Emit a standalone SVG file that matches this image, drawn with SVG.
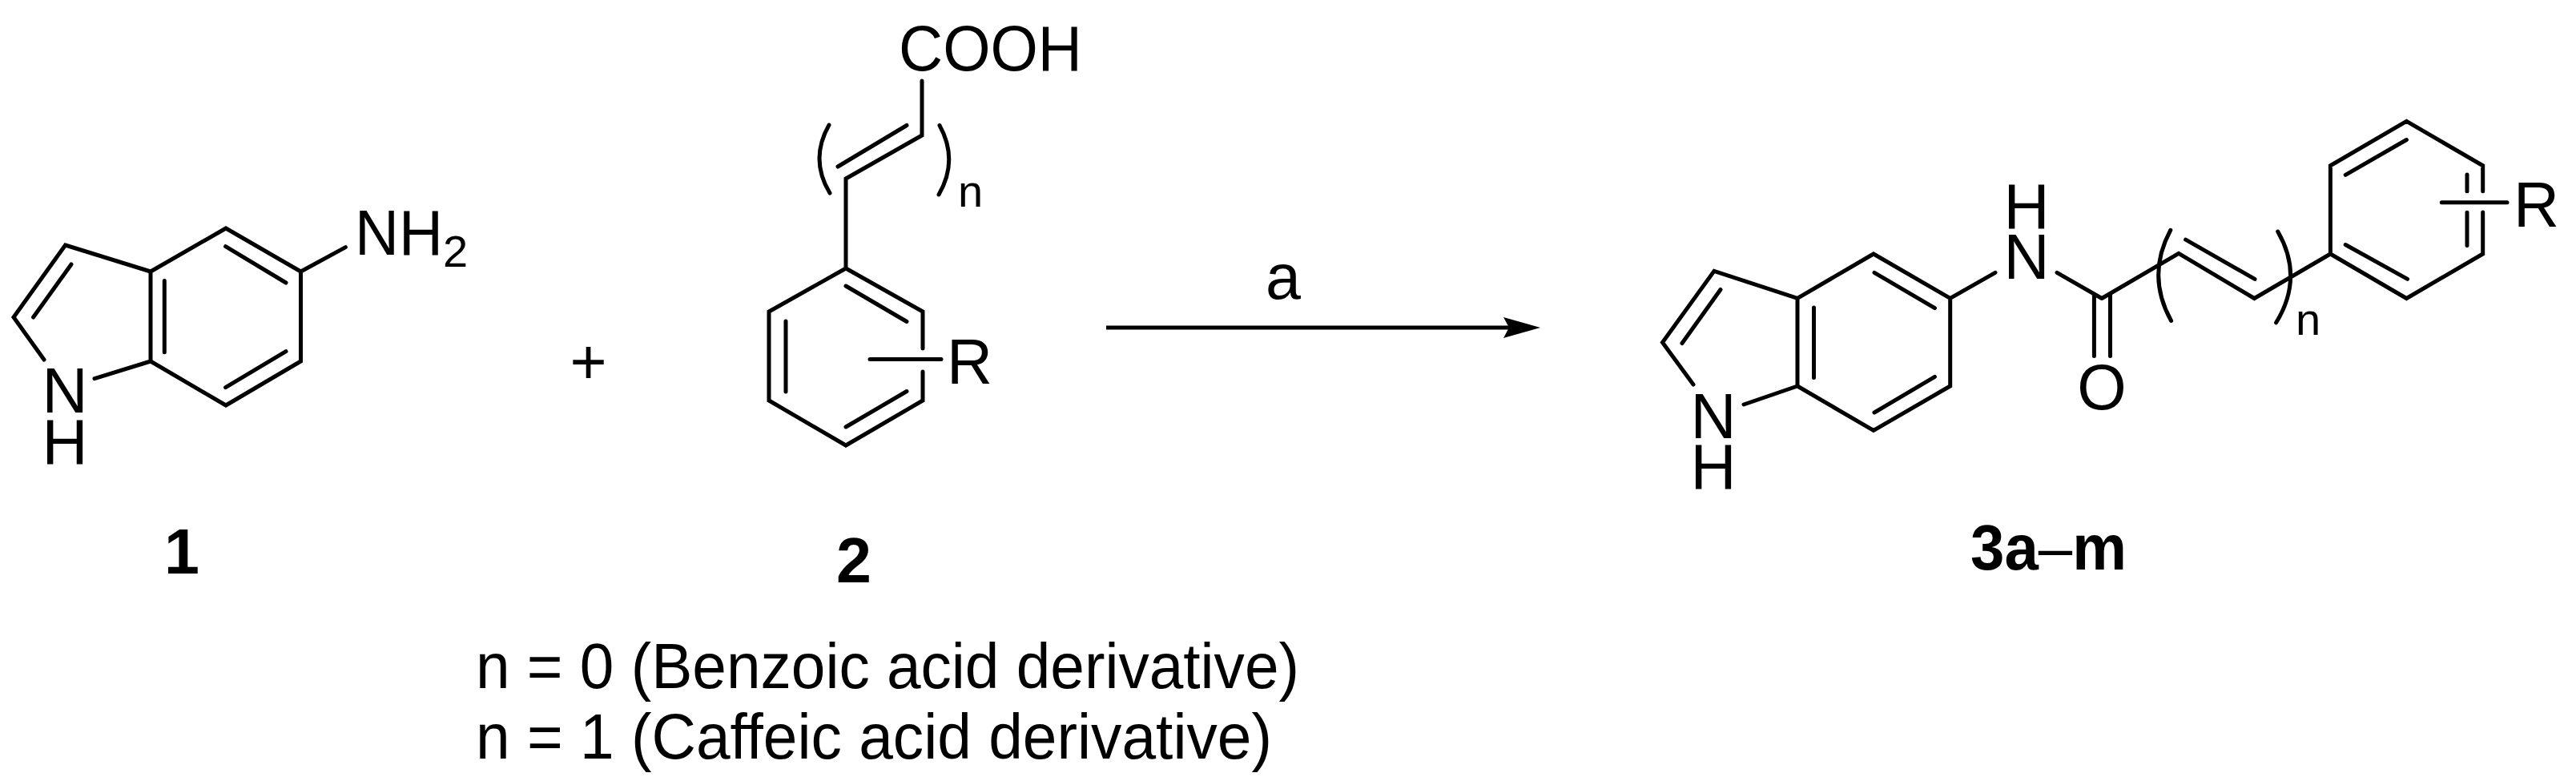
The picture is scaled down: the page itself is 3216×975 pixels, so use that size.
<svg xmlns="http://www.w3.org/2000/svg" width="3216" height="975" viewBox="0 0 3216 975">
<defs>
<style>
.b{fill:none;stroke:#000;stroke-width:5;stroke-linecap:round;stroke-linejoin:miter}
.t{font-family:"Liberation Sans",Arial,sans-serif;font-size:79px;fill:#000}
.s{font-size:56px}
.l{font-weight:bold}
.m{text-anchor:middle}
</style>
</defs>
<rect width="3216" height="975" fill="#fff"/>
<g id="compound-1">
<path class="b" d="M188 339L282 285L375.5 339V451L282 506L188 451ZM188 339L81.6 306L17 396L55 449M118 472.7L188 451M41.6 396L89 330M205.3 350.6V439.7M281.6 307.7L357 353M281.6 483.6L357 438.7M375.5 339L431.4 308.6"/>
<text class="t" x="443" y="318" textLength="110" lengthAdjust="spacingAndGlyphs">NH</text><text class="t s" x="553" y="333">2</text>
<text class="t m" x="81" y="515">N</text><text class="t m" x="81" y="579">H</text>
<text class="t l m" x="227" y="716">1</text>
</g>
<g id="plus"><text class="t m" x="734.5" y="479">+</text></g>
<g id="compound-2">
<path class="b" d="M1056 335L1152 389V435M1152 464V500L1056 556L960 500V389L1056 335M1056 357L1132 401.5M981 401V489M1056 533L1132 488.5M1086 448.5H1175M1056 335V223L1151 169V101M1046 208L1132 156.5M1035 156Q1010.5 199 1036 241M1173 156.5Q1197 200 1172 243"/>
<text class="t" x="1122" y="88" textLength="229" lengthAdjust="spacingAndGlyphs">COOH</text>
<text class="t s" x="1196" y="258">n</text>
<text class="t" x="1182" y="479">R</text>
<text class="t l m" x="1066" y="727">2</text>
<text class="t" x="594" y="859" textLength="1028" lengthAdjust="spacingAndGlyphs">n = 0 (Benzoic acid derivative)</text>
<text class="t" x="594" y="947" textLength="994" lengthAdjust="spacingAndGlyphs">n = 1 (Caffeic acid derivative)</text>
</g>
<g id="compound-3">
<path class="b" d="M2244 372.4L2339 317L2434.7 372.4V482L2339 537.4L2244 482ZM2244 372.4L2140 338.4L2075.5 427.5L2114 480M2177 505L2244 482M2100 428.5L2148 361.5M2264.5 384V471.4M2340 340.4L2415.5 384.6M2340 515L2415.5 470.4M2434.7 372.4L2491 340.4M2568 340.4L2624 372.5M2614.4 368V444.4M2634.5 368V444.4M2624 372.5L2720 316.4L2814.4 372.5L2909.4 317V206.8L3004.4 151.4L3099.7 206.8V238.8M3099.7 265V317L3004.4 372.5L2909.4 317M2728.6 299.2L2815 348.4M2928.2 218.3L3004.4 174.5M2928.2 305.5L3005.6 348.4M3080 218V238.8M3080 265.2V306.5M3048.3 252.7H3130M2709.8 287.3Q2679.2 344 2710.6 400.5M2843.7 289Q2876.6 346 2841.6 402.8"/>
<text class="t m" x="2530" y="285">H</text><text class="t m" x="2530" y="348">N</text>
<text class="t m" x="2139" y="547">N</text><text class="t m" x="2139" y="610">H</text>
<text class="t m" x="2624" y="511">O</text>
<text class="t s" x="2866" y="418">n</text>
<text class="t" x="3138" y="283">R</text>
<text class="t l" x="2460" y="711" textLength="195" lengthAdjust="spacingAndGlyphs">3a<tspan font-weight="normal">–</tspan>m</text>
</g>
<g id="connectors">
<path class="b" style="stroke-linecap:butt" d="M1381 409H1886"/>
<path d="M1877 396L1923 409L1877 422L1884 409Z" fill="#000"/>
<text class="t m" x="1602" y="373">a</text>
</g>
</svg>
